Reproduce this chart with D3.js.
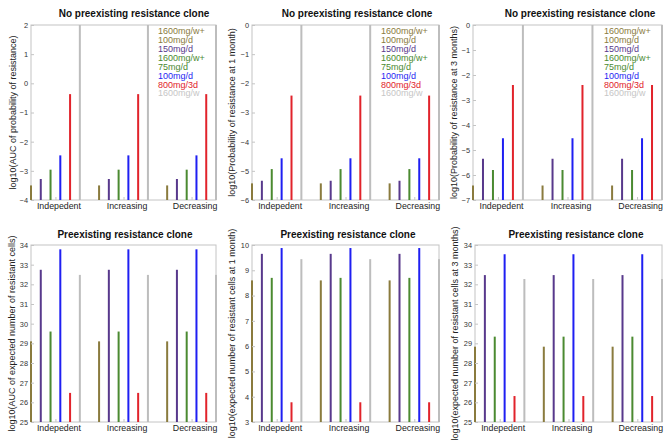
<!DOCTYPE html>
<html><head><meta charset="utf-8">
<script src="https://cdn.jsdelivr.net/npm/d3@7"></script>
<style>body{margin:0;background:#fff}text{font-family:"Liberation Sans",Arial,Helvetica,sans-serif}</style>
</head><body><svg id="c" width="670" height="448"></svg>
<script>
// ---------- data ----------
const categories = ["Indepedent", "Increasing", "Decreasing"];
const seriesLabels = [["1600mg/w+", "100mg/d"], ["150mg/d"], ["1600mg/w+", "75mg/d"], ["100mg/d"], ["800mg/3d"], ["1600mg/w"]];
const seriesColors = ["#8a7b3e", "#58398c", "#4b8a31", "#1f1ff2", "#e1232b", "#bdbdbd"];
const legendTextColors = ["#8a7b3e", "#58398c", "#4b8a31", "#1f1ff2", "#e1232b", "#c6c6c6"];

// values per group (rows = categories, columns = series)
const aucProbResistance = [
  [-3.50, -3.28, -2.96, -2.47, -0.37, 2],
  [-3.50, -3.28, -2.96, -2.47, -0.37, 2],
  [-3.50, -3.28, -2.96, -2.47, -0.37, 2]];
const probResistance1m = [
  [-5.43, -5.34, -4.94, -4.57, -2.42, 0],
  [-5.43, -5.34, -4.94, -4.57, -2.42, 0],
  [-5.43, -5.34, -4.94, -4.57, -2.42, 0]];
const probResistance3m = [
  [-6.42, -5.35, -5.80, -4.53, -2.40, 0],
  [-6.42, -5.35, -5.80, -4.53, -2.40, 0],
  [-6.42, -5.35, -5.80, -4.53, -2.40, 0]];
const aucResistantCells = [
  [29.10, 32.74, 29.60, 33.78, 26.48, 32.48],
  [29.10, 32.74, 29.60, 33.78, 26.48, 32.48],
  [29.10, 32.74, 29.60, 33.78, 26.48, 32.48]];
const resistantCells1m = [
  [8.60, 9.65, 8.70, 9.88, 3.78, 9.44],
  [8.60, 9.65, 8.70, 9.88, 3.78, 9.44],
  [8.60, 9.65, 8.70, 9.88, 3.78, 9.44]];
const resistantCells3m = [
  [28.83, 32.47, 29.34, 33.53, 26.32, 32.27],
  [28.83, 32.47, 29.34, 33.53, 26.32, 32.27],
  [28.83, 32.47, 29.34, 33.53, 26.32, 32.27]];

const panelValues = [aucProbResistance, probResistance1m, probResistance3m, aucResistantCells, resistantCells1m, resistantCells3m];
const panelTitles = ["No preexisting resistance clone", "No preexisting resistance clone", "No preexisting resistance clone",
  "Preexisting resistance clone", "Preexisting resistance clone", "Preexisting resistance clone"];
const yAxisLabels = ["log10(AUC of probability of resistance)", "log10(Probability of resistance at 1 month)",
  "log10(Probability of resistance at 3 months)", "log10(AUC of expected number of resistant cells)",
  "log10(expected number of resistant cells at 1 month)", "log10(expected number of resistant cells at 3 months)"];
const yDomains = [[-4, 2], [-6, 0], [-7, 0], [25, 34], [3, 10], [25, 34]];
const showLegend = [true, true, true, false, false, false];

// ---------- layout ----------
const frames = [
  {l: 31, r: 216, t: 25, b: 200, tx: 134, ty: 17, lx: 13},
  {l: 252, r: 439, t: 25, b: 200, tx: 357, ty: 17, lx: 232},
  {l: 473, r: 662, t: 25, b: 200, tx: 580, ty: 17, lx: 454},
  {l: 31, r: 216, t: 245, b: 422, tx: 125, ty: 238, lx: 12},
  {l: 252, r: 439, t: 245, b: 422, tx: 348, ty: 238, lx: 232},
  {l: 475, r: 662, t: 245, b: 422, tx: 576, ty: 238, lx: 455}];
const barStep = 0.1435;
const nSeries = seriesLabels.length;
const half = (nSeries - 1) / 2;

const svg = d3.select("#c");
const fmt = d3.format("d");

frames.forEach((f, i) => {
  const g = svg.append("g");
  const x = d3.scaleLinear()
    .domain([1 - half * barStep, categories.length + half * barStep])
    .range([f.l, f.r]);
  const y = d3.scaleLinear().domain(yDomains[i]).range([f.b, f.t]);

  // box
  g.append("rect").attr("x", f.l).attr("y", f.t).attr("width", f.r - f.l).attr("height", f.b - f.t)
    .attr("fill", "none").attr("stroke", "#c4c4c4").attr("stroke-width", 1);

  // bars
  const data = [];
  panelValues[i].forEach((row, gi) => row.forEach((v, si) => data.push({gi, si, v})));
  g.selectAll("rect.bar").data(data).join("rect").attr("class", "bar")
    .attr("x", d => x(d.gi + 1 + (d.si - half) * barStep) - 1)
    .attr("width", 2)
    .attr("y", d => y(Math.min(d.v, yDomains[i][1])))
    .attr("height", d => y(yDomains[i][0]) - y(Math.min(d.v, yDomains[i][1])))
    .attr("fill", d => seriesColors[d.si]);

  // y axis
  const ticks = d3.range(yDomains[i][0], yDomains[i][1] + 1);
  const ya = g.append("g").attr("transform", `translate(${f.l},0)`)
    .call(d3.axisLeft(y).tickValues(ticks).tickSize(-3).tickPadding(3).tickFormat(fmt));
  ya.select(".domain").remove();
  ya.selectAll("line").attr("stroke", "#c4c4c4");
  ya.selectAll("text").attr("fill", "#333").style("font-size", "7.4px").style("font-family", '"Liberation Sans",Arial,sans-serif');

  // x axis
  const xa = g.append("g").attr("transform", `translate(0,${f.b})`)
    .call(d3.axisBottom(x).tickValues(categories.map((c, k) => k + 1)).tickSize(-3).tickPadding(3)
      .tickFormat((d) => categories[d - 1]));
  xa.select(".domain").remove();
  xa.selectAll("line").attr("stroke", "#c4c4c4");
  xa.selectAll("text").attr("fill", "#222").attr("dx", 3).style("font-size", "8.8px")
    .style("font-family", '"Liberation Sans",Arial,sans-serif');

  // title
  g.append("text").attr("x", f.tx).attr("y", f.ty).attr("text-anchor", "middle")
    .style("font-weight", "bold").style("font-size", "10px").attr("fill", "#111").text(panelTitles[i]);

  // y label
  g.append("text").attr("transform", `translate(${f.lx},${(f.t + f.b) / 2}) rotate(-90)`)
    .attr("text-anchor", "middle").attr("dy", "0.35em").style("font-size", "9px").attr("fill", "#222")
    .text(yAxisLabels[i]);

  // legend
  if (showLegend[i]) {
    const lines = [];
    seriesLabels.forEach((ls, si) => ls.forEach(t => lines.push({t, si})));
    g.selectAll("text.leg").data(lines).join("text").attr("class", "leg")
      .attr("x", f.r - 58).attr("y", (d, k) => f.t + 6 + k * 8.9).attr("dy", "0.35em")
      .style("font-size", "9px").attr("fill", d => legendTextColors[d.si]).text(d => d.t);
  }
});
</script></body></html>
